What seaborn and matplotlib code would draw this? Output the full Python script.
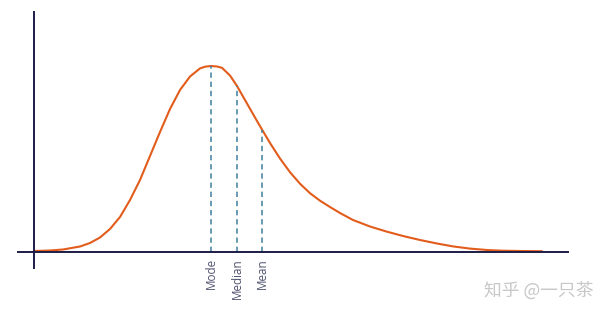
import numpy as np
import pandas as pd
import matplotlib
matplotlib.use("Agg")
import matplotlib.pyplot as plt
import seaborn as sns

# Curve (x along axis, density height)
x_vals = [1, 16, 29, 46, 56, 66, 76, 86, 96, 106, 116, 126, 136, 146, 156,
          166, 171, 177, 183, 188, 196, 203, 213, 223, 228, 236, 246, 256,
          266, 276, 286, 296, 306, 319, 336, 353, 369, 386, 403, 419, 436,
          453, 469, 486, 508]
y_vals = [1, 1.5, 2.5, 5.5, 9, 14.5, 23, 35, 52, 72, 96, 120, 143, 162, 175.5,
          183.6, 185.3, 186, 185.5, 184.2, 176.5, 166, 148.5, 131, 122.5, 109,
          93.5, 79.8, 68.3, 58.8, 51.3, 45, 39, 32, 25.5, 20.3, 16, 12, 8.5,
          5.6, 3.4, 2, 1.3, 1, 0.8]

stat_names = ["Mode", "Median", "Mean"]
stat_x = [177, 203, 228]

sns.set_style("white")
plt.rcParams["font.family"] = ["Open Sans", "Noto Sans CJK SC", "DejaVu Sans"]

fig = plt.figure(figsize=(6.16, 3.18), dpi=100)
ax = fig.add_axes([0, 0, 1, 1])

df = pd.DataFrame({"x": x_vals, "y": y_vals})
sns.lineplot(data=df, x="x", y="y", ax=ax, color="#e25c1c", lw=1.5,
             estimator=None, sort=False, solid_joinstyle="round")

stat_h = np.interp(stat_x, x_vals, y_vals)
ax.vlines(stat_x, 0, stat_h, colors="#3f7f9c", linestyles=(0, (3.5, 2.5)), lw=1.1)
for name, sx in zip(stat_names, stat_x):
    ax.text(sx, -6, name, rotation=90, ha="center", va="top",
            fontsize=8.4, color="#4f5270")

ax.set_xlim(-34, 582)
ax.set_ylim(-66, 252)
for s in ["top", "right"]:
    ax.spines[s].set_visible(False)
ax.spines["left"].set_position(("data", 0))
ax.spines["bottom"].set_position(("data", 0))
ax.spines["left"].set_bounds(-16, 240)
ax.spines["bottom"].set_bounds(-16, 534)
for s in ["left", "bottom"]:
    ax.spines[s].set_color("#1c1c45")
    ax.spines[s].set_linewidth(1.4)
ax.set_xticks([])
ax.set_yticks([])
ax.set_xlabel("")
ax.set_ylabel("")

fig.text(484 / 616, 1 - 292 / 318, "知乎 @一只茶", fontsize=12.8, color="#c8c8c8",
         ha="left", va="center", family=["Noto Sans CJK SC", "DejaVu Sans"])

fig.savefig("out.png", dpi=100)
